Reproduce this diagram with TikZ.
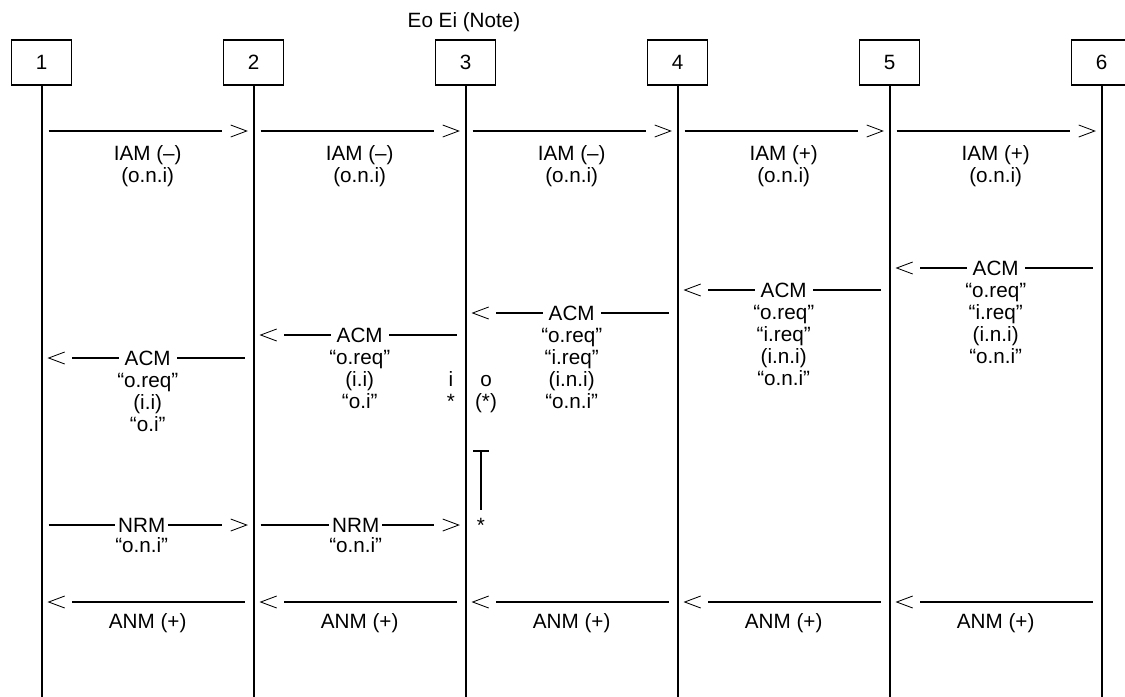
\documentclass[tikz,border=0pt]{standalone}
\usepackage{fontspec}
\setmainfont{Liberation Sans}
\usetikzlibrary{calc}

\tikzset{
    % exchange box at the top
    exchbox/.style={
        draw=black,
        line width=0.8pt,
        minimum width=1.5cm,
        minimum height=1.125cm,
        inner sep=0pt
    },
    % vertical line below an exchange
    lifeline/.style={
        line width=1.4pt,
        draw=black
    },
    % message line
    msgline/.style={
        line width=1.4pt,
        draw=black
    },
    % open chevron at the end of a message
    chevron/.style={
        line width=0.6pt,
        draw=black
    },
    % message name sitting on its line
    onlabel/.style={
        fill=white,
        inner xsep=0.15cm,
        inner ysep=0pt
    },
    % parameters written below a message
    sublabel/.style={
        anchor=north,
        align=center,
        inner sep=0pt
    },
    % single text set on its baseline
    basetext/.style={
        anchor=base,
        inner sep=0pt
    }
}

% message to the right: from, to, y
\newcommand{\msgR}[3]{%
    \draw[msgline] ($(#1 |- 0,#3)+(7,0)$) -- ($(#2 |- 0,#3)+(-32,0)$);
    \draw[chevron] ($(#2 |- 0,#3)+(-23,-6)$) -- ($(#2 |- 0,#3)+(-7,0)$) -- ($(#2 |- 0,#3)+(-23,6)$);
}
% message to the left: from, to, y
\newcommand{\msgL}[3]{%
    \draw[msgline] ($(#1 |- 0,#3)+(-9,0)$) -- ($(#2 |- 0,#3)+(30,0)$);
    \draw[chevron] ($(#2 |- 0,#3)+(23,-6)$) -- ($(#2 |- 0,#3)+(7,0)$) -- ($(#2 |- 0,#3)+(23,6)$);
}

\begin{document}
\begin{tikzpicture}[x=0.025cm, y=-0.025cm, font=\fontsize{14.7}{15.6}\selectfont]
    \useasboundingbox (0,0) rectangle (1125,697);

    % exchanges and their lines
    \foreach \i in {1,...,6} {
        \node[exchbox] (p\i) at ({41.7+212*(\i-1)},62.5) {\i};
        \draw[lifeline] (p\i.south) -- (p\i.south |- 0,697);
    }
    \foreach \i/\j in {1/2,2/3,3/4,4/5,5/6}
        \coordinate (m\i\j) at ($(p\i)!0.5!(p\j)$);
    \node[basetext] (note) at (464,27) {Eo Ei (Note)};

    % IAM
    \msgR{p1}{p2}{131}
    \msgR{p2}{p3}{131}
    \msgR{p3}{p4}{131}
    \msgR{p4}{p5}{131}
    \msgR{p5}{p6}{131}
    \node[sublabel] (iam12) at (m12 |- 0,145) {IAM (–)\\(o.n.i)};
    \node[sublabel] (iam23) at (m23 |- 0,145) {IAM (–)\\(o.n.i)};
    \node[sublabel] (iam34) at (m34 |- 0,145) {IAM (–)\\(o.n.i)};
    \node[sublabel] (iam45) at (m45 |- 0,145) {IAM (+)\\(o.n.i)};
    \node[sublabel] (iam56) at (m56 |- 0,145) {IAM (+)\\(o.n.i)};

    % ACM
    \msgL{p6}{p5}{268}
    \node[onlabel] (acm65) at (m56 |- 0,268) {ACM};
    \node[sublabel] (acm65p) at (m56 |- 0,283) {“o.req”\\“i.req”\\(i.n.i)\\“o.n.i”};
    \msgL{p5}{p4}{290}
    \node[onlabel] (acm54) at (m45 |- 0,290) {ACM};
    \node[sublabel] (acm54p) at (m45 |- 0,305) {“o.req”\\“i.req”\\(i.n.i)\\“o.n.i”};
    \msgL{p4}{p3}{313}
    \node[onlabel] (acm43) at (m34 |- 0,313) {ACM};
    \node[sublabel] (acm43p) at (m34 |- 0,328) {“o.req”\\“i.req”\\(i.n.i)\\“o.n.i”};
    \msgL{p3}{p2}{335}
    \node[onlabel] (acm32) at (m23 |- 0,335) {ACM};
    \node[sublabel] (acm32p) at (m23 |- 0,350) {“o.req”\\(i.i)\\“o.i”};
    \msgL{p2}{p1}{358}
    \node[onlabel] (acm21) at (m12 |- 0,358) {ACM};
    \node[sublabel] (acm21p) at (m12 |- 0,373) {“o.req”\\(i.i)\\“o.i”};

    % marks at exchange 3
    \node[basetext] (in3) at (451,386) {i};
    \node[basetext] (out3) at (486,386) {o};
    \node[basetext] (inst3) at (451,408) {*};
    \node[basetext] (outst3) at (486,408) {(*)};
    \coordinate (tleft) at (473,451);
    \coordinate (tright) at (489,451);
    \coordinate (ttop) at (481,451);
    \coordinate (tfoot) at (481,510);
    \draw[msgline] (tleft) -- (tright);
    \draw[msgline] (ttop) -- (tfoot);
    \node[basetext] (tst3) at (481,532) {*};

    % NRM
    \msgR{p1}{p2}{525}
    \msgR{p2}{p3}{525}
    \node[onlabel, inner xsep=0.075cm] (nrm12) at ($(m12 |- 0,525)+(-6,0)$) {NRM};
    \node[basetext] (nrm12p) at ($(m12 |- 0,552)+(-6,0)$) {“o.n.i”};
    \node[onlabel, inner xsep=0.075cm] (nrm23) at ($(m23 |- 0,525)+(-4,0)$) {NRM};
    \node[basetext] (nrm23p) at ($(m23 |- 0,552)+(-4,0)$) {“o.n.i”};

    % ANM
    \msgL{p2}{p1}{602}
    \msgL{p3}{p2}{602}
    \msgL{p4}{p3}{602}
    \msgL{p5}{p4}{602}
    \msgL{p6}{p5}{602}
    \node[basetext] (anm12) at (m12 |- 0,628) {ANM (+)};
    \node[basetext] (anm23) at (m23 |- 0,628) {ANM (+)};
    \node[basetext] (anm34) at (m34 |- 0,628) {ANM (+)};
    \node[basetext] (anm45) at (m45 |- 0,628) {ANM (+)};
    \node[basetext] (anm56) at (m56 |- 0,628) {ANM (+)};
\end{tikzpicture}
\end{document}
